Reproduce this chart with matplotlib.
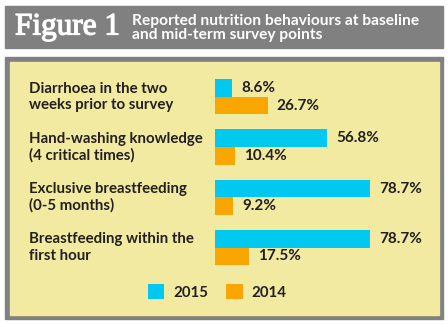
import matplotlib
matplotlib.use("Agg")
import matplotlib.pyplot as plt
import matplotlib.patheffects as pe
from matplotlib.patches import Rectangle, Patch

# survey results (% of respondents)
categories = [
    "Diarrhoea in the two\nweeks prior to survey",
    "Hand-washing knowledge\n(4 critical times)",
    "Exclusive breastfeeding\n(0-5 months)",
    "Breastfeeding within the\nfirst hour",
]
values_2015 = [8.6, 56.8, 78.7, 78.7]
values_2014 = [26.7, 10.4, 9.2, 17.5]
series_labels = ["2015", "2014"]

BLUE = "#00c8ef"
ORANGE = "#f9a700"
YELLOW = "#f2eaa1"
GREY = "#808080"
INK = "#231f20"
W, H = 448, 324

fig = plt.figure(figsize=(W / 100, H / 100), dpi=100)
fig.patch.set_facecolor("white")

def px_rect(x0, y0, x1, y1, color):
    # rectangle given in pixel coords measured from the top-left corner
    fig.patches.append(Rectangle((x0 / W, 1 - y1 / H), (x1 - x0) / W, (y1 - y0) / H,
                                 transform=fig.transFigure, color=color, zorder=-5))

# header band and panel frame
px_rect(5, 6, 443, 48, GREY)
px_rect(5, 57, 443, 319, GREY)
px_rect(10, 62, 439, 315, YELLOW)

fig.text(15 / W, 1 - 27 / H, "Figure 1", family="Liberation Serif", fontsize=22.5,
         color="white", va="center", ha="left",
         path_effects=[pe.withStroke(linewidth=0.9, foreground="white")])
fig.text(132 / W, 1 - 28 / H, "Reported nutrition behaviours at baseline\nand mid-term survey points",
         family="Lato", weight="bold", fontsize=11.2, color="white", va="center", ha="left",
         linespacing=1.0)

# bar area
scale = 1.97  # pixels per percentage point
x0_px, x1_px = 215, 437
top_px, bot_px = 66.7, 277.7
ax = fig.add_axes([x0_px / W, 1 - bot_px / H, (x1_px - x0_px) / W, (bot_px - top_px) / H])
ax.set_xlim(0, (x1_px - x0_px) / scale)
ax.set_ylim(3.6, -0.6)
ax.axis("off")

bh = 0.35
ypos = list(range(len(categories)))
ax.barh([y - bh / 2 for y in ypos], values_2015, height=bh, color=BLUE, linewidth=0)
ax.barh([y + bh / 2 for y in ypos], values_2014, height=bh, color=ORANGE, linewidth=0)

font = dict(family="Lato", weight="bold", color=INK)
for y, v15, v14, cat in zip(ypos, values_2015, values_2014, categories):
    ax.annotate(f"{v15}%", (v15, y - bh / 2), xytext=(6.5, 0), textcoords="offset points",
                va="center", ha="left", fontsize=11, **font)
    ax.annotate(f"{v14}%", (v14, y + bh / 2), xytext=(6.5, 0), textcoords="offset points",
                va="center", ha="left", fontsize=11, **font)
    ax.annotate(cat, (29 / W, y), xycoords=("figure fraction", "data"), va="center",
                ha="left", fontsize=10.8, linespacing=1.2, **font)

handles = [Patch(color=BLUE, linewidth=0), Patch(color=ORANGE, linewidth=0)]
ax.legend(handles, series_labels, loc="center", bbox_to_anchor=(217 / W, 1 - 292 / H),
          bbox_transform=fig.transFigure, ncol=2, frameon=False,
          prop=dict(family="Lato", weight="bold", size=10.8), labelcolor=INK,
          handlelength=1.1, handleheight=1.15, handletextpad=0.6, columnspacing=1.2)

fig.savefig("out.png", dpi=100)
